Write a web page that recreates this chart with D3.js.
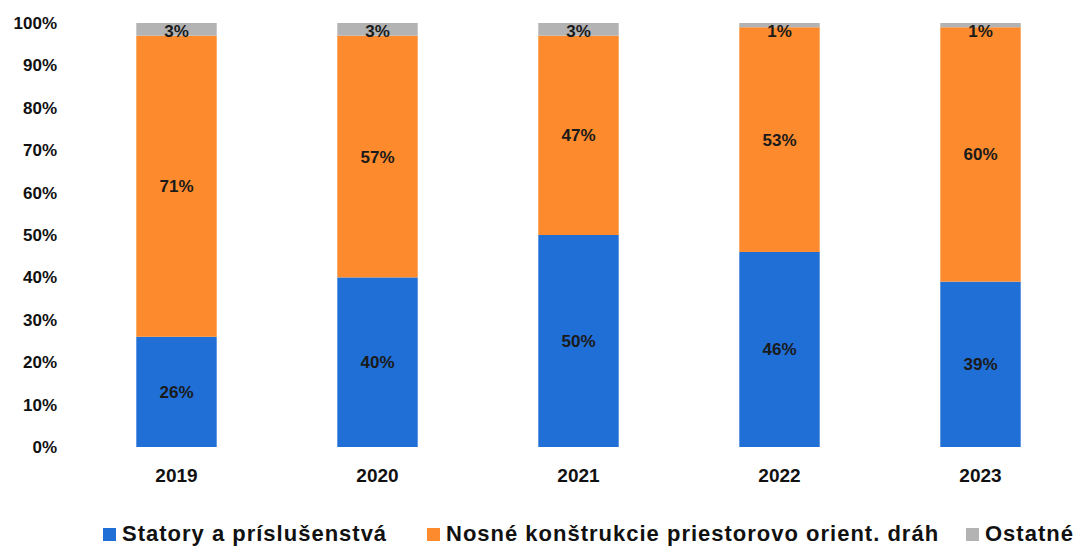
<!DOCTYPE html>
<html><head><meta charset="utf-8">
<script src="https://cdn.jsdelivr.net/npm/d3@7/dist/d3.min.js"></script>
<style>body{margin:0;background:#fff}svg{display:block}</style>
</head><body><svg id="c" width="1089" height="546"></svg>
<script>
const years = ["2019","2020","2021","2022","2023"];
const seriesNames = ["Statory a príslušenstvá","Nosné konštrukcie priestorovo orient. dráh","Ostatné"];
const statory = [26,40,50,46,39];
const nosne = [71,57,47,53,60];
const ostatne = [3,3,3,1,1];
const yTicks = [0,10,20,30,40,50,60,70,80,90,100];
const colors = ["#1f6fd6","#fd8a2c","#b3b3b3"];

const svg = d3.select("#c");
const font = "'Liberation Sans', Arial, sans-serif";
const x = d3.scaleBand().domain(years).range([76,1081]).paddingInner(0.6).paddingOuter(0.3);
const y = d3.scaleLinear().domain([0,100]).range([447,23]);

const rows = years.map((yr,i)=>({year:yr,s0:statory[i],s1:nosne[i],s2:ostatne[i]}));
const stack = d3.stack().keys(["s0","s1","s2"])(rows);

const yAxis = d3.axisLeft(y).tickValues(yTicks).tickFormat(d=>d+"%").tickSize(0).tickPadding(0);
const ya = svg.append("g").attr("transform","translate(57,0)").call(yAxis);
ya.select(".domain").remove();
ya.selectAll("text").attr("font-family",font).attr("font-weight","bold").attr("font-size",17).attr("fill","#111");

const xAxis = d3.axisBottom(x).tickSize(0).tickPadding(0);
const xa = svg.append("g").attr("transform","translate(0,482)").call(xAxis);
xa.select(".domain").remove();
xa.selectAll("text").attr("font-family",font).attr("font-weight","bold").attr("font-size",19).attr("fill","#111").attr("dy","0").attr("y",0);

stack.forEach((layer,k)=>{
  const g = svg.append("g");
  g.selectAll("rect").data(layer).enter().append("rect")
    .attr("x",d=>x(d.data.year)).attr("width",x.bandwidth())
    .attr("y",d=>y(d[1])).attr("height",d=>y(d[0])-y(d[1]))
    .attr("fill",colors[k]);
  g.selectAll("text").data(layer).enter().append("text")
    .attr("x",d=>x(d.data.year)+x.bandwidth()/2)
    .attr("y",d=> k===2 ? y(d[1])+2 : y((d[0]+d[1])/2))
    .attr("dy", k===2 ? "0.71em" : "0.35em")
    .attr("text-anchor","middle")
    .attr("font-family",font).attr("font-weight","bold").attr("font-size",17).attr("fill","#1a1a1a")
    .text(d=>(d[1]-d[0])+"%");
});

const leg = svg.append("g").attr("transform","translate(0,541)");
const legX = [103,427,966];
seriesNames.forEach((n,i)=>{
  const g = leg.append("g").attr("transform",`translate(${legX[i]},0)`);
  g.append("rect").attr("x",0).attr("y",-13).attr("width",13).attr("height",13).attr("fill",colors[i]);
  g.append("text").attr("x",19).attr("y",0).attr("font-family",font).attr("font-weight","bold")
    .attr("font-size",22).attr("letter-spacing",1).attr("fill","#111").text(n);
});
</script></body></html>
